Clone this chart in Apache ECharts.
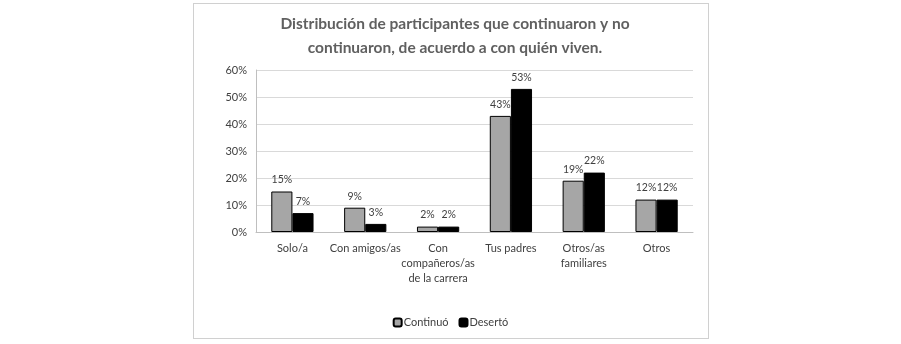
<!DOCTYPE html>
<html>
<head>
<meta charset="utf-8">
<script src="https://cdn.jsdelivr.net/npm/echarts@6/dist/echarts.min.js"></script>
<style>
  html, body { margin: 0; padding: 0; background: #fff; }
  #frame { position: absolute; left: 193px; top: 3px; width: 514px; height: 334px; border: 1px solid #d0d0d0; }
  #main { position: absolute; left: 0; top: 0; width: 901px; height: 344px; }
</style>
</head>
<body>
<div id="frame"></div>
<div id="main"></div>
<script>
const categories = ['Solo/a', 'Con amigos/as', 'Con\ncompañeros/as\nde la carrera', 'Tus padres', 'Otros/as\nfamiliares', 'Otros'];
const continuo = [0.15, 0.09, 0.02, 0.43, 0.19, 0.12];
const deserto = [0.07, 0.03, 0.02, 0.53, 0.22, 0.12];
const yTicks = [0, 0.1, 0.2, 0.3, 0.4, 0.5, 0.6];

const fontFam = 'Lato, "Open Sans", sans-serif';
const pct = v => Math.round(v * 100) + '%';

const myChart = echarts.init(document.getElementById('main'));

const option = {
  animation: false,
  textStyle: { fontFamily: fontFam },
  title: {
    text: 'Distribución de participantes que continuaron y no\ncontinuaron, de acuerdo a con quién viven.',
    left: 450,
    top: 7,
    textAlign: 'center',
    textStyle: { fontFamily: fontFam, fontSize: 15.5, fontWeight: 'bold', color: '#606060', lineHeight: 24 }
  },
  legend: {
    data: ['Continuó', 'Desertó'],
    left: 'center',
    top: 312,
    itemWidth: 8,
    itemHeight: 8,
    itemGap: 10,
    textStyle: { fontFamily: fontFam, fontSize: 11, color: '#404040', padding: [0, 0, 0, -3] }
  },
  grid: { left: 256, right: 208, top: 70, bottom: 112 },
  xAxis: {
    type: 'category',
    data: categories,
    axisLine: { lineStyle: { color: '#bfbfbf' } },
    axisTick: { show: false },
    axisLabel: { fontFamily: fontFam, fontSize: 11, color: '#404040', lineHeight: 15, margin: 9, interval: 0 }
  },
  yAxis: {
    type: 'value',
    min: yTicks[0],
    max: yTicks[yTicks.length - 1],
    interval: 0.1,
    axisLine: { show: true, lineStyle: { color: '#bfbfbf' } },
    axisTick: { show: false },
    splitLine: { lineStyle: { color: '#d9d9d9' } },
    axisLabel: { fontFamily: fontFam, fontSize: 11, color: '#404040', margin: 9, formatter: v => pct(v) }
  },
  series: [
    {
      name: 'Continuó',
      type: 'bar',
      data: continuo,
      barGap: '0%',
      barCategoryGap: '42%',
      itemStyle: { color: '#a6a6a6', borderColor: '#000', borderWidth: 1 },
      label: { show: true, position: 'top', distance: 6, fontFamily: fontFam, fontSize: 10.5, color: '#404040', formatter: p => pct(p.value) }
    },
    {
      name: 'Desertó',
      type: 'bar',
      data: deserto,
      itemStyle: { color: '#000', borderColor: '#000', borderWidth: 1 },
      label: { show: true, position: 'top', distance: 6, fontFamily: fontFam, fontSize: 10.5, color: '#404040', formatter: p => pct(p.value) }
    }
  ]
};

option && myChart.setOption(option);
</script>
</body>
</html>
